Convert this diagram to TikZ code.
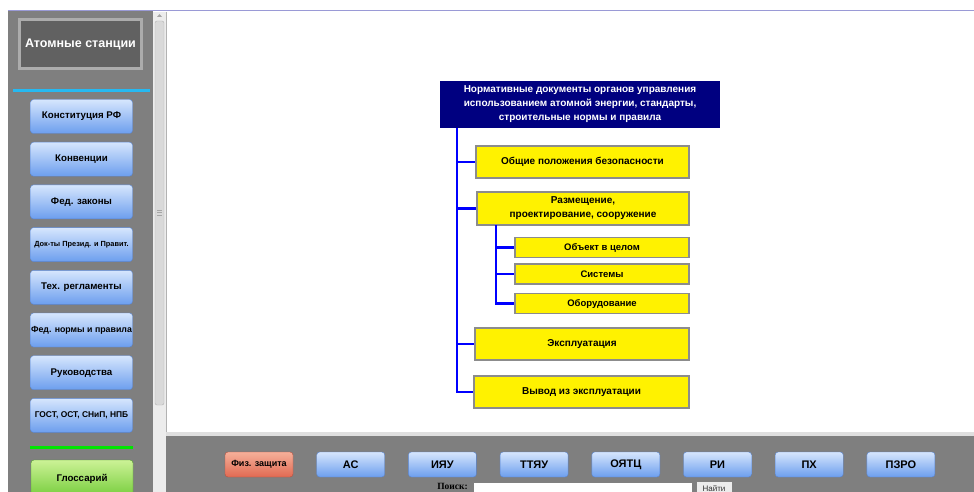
\documentclass[tikz,border=0pt]{standalone}
\usepackage{fontspec}
\setmainfont{Liberation Sans}
\newfontfamily\poiskfont{Liberation Serif}
\definecolor{panelgray}{HTML}{7F7F7F}
\definecolor{btntop}{HTML}{D6E6FD}
\definecolor{btnbot}{HTML}{6C9EEE}
\definecolor{btnedge}{HTML}{5A86D2}
\definecolor{redtop}{HTML}{F6B09A}
\definecolor{redbot}{HTML}{E06A52}
\definecolor{rededge}{HTML}{B85040}
\definecolor{grntop}{HTML}{CCF296}
\definecolor{grnbot}{HTML}{74CC3A}
\definecolor{grnedge}{HTML}{4C9A2A}
\definecolor{navydoc}{HTML}{000080}
\definecolor{boxedge}{HTML}{8C8C8C}
\definecolor{topline}{HTML}{9A9AD6}

\tikzset{
  navbtn/.style={draw=btnedge, top color=btntop, bottom color=btnbot,
    rounded corners=3pt, minimum width=102pt, minimum height=34pt,
    inner sep=0pt, text=black, font=\bfseries\fontsize{9.7}{11}\selectfont},
  barbtn/.style={navbtn, minimum width=68pt, minimum height=25pt,
    font=\bfseries\fontsize{11}{12}\selectfont},
  docbox/.style={draw=boxedge, fill=yellow, line width=1.2pt, inner sep=0pt,
    align=center, font=\bfseries\fontsize{10}{14}\selectfont},
  subbox/.style={docbox, minimum width=174pt, minimum height=20pt,
    font=\bfseries\fontsize{9.5}{12}\selectfont},
  branch/.style={draw=blue, line width=2.6pt}
}

\begin{document}
\begin{tikzpicture}[x=1pt,y=-1pt]
    \useasboundingbox (0,0) rectangle (974,492);
    \clip (0,0) rectangle (974,492);
    \fill[white] (0,0) rectangle (974,492);
    % left panel and scrollbar
    \fill[panelgray] (8,11) rectangle (153,492);
    \draw[topline, line width=1pt] (8,11) -- (974,11);
    \fill[gray!15] (153,12) rectangle (166,492);
    \draw[gray!60, fill=gray!30, rounded corners=2pt] (155,21) rectangle (164,405);
    \fill[gray!70] (157,17) -- (162,17) -- (159.5,14) -- cycle;
    \draw[gray!70] (157,210) -- (162,210) (157,212.5) -- (162,212.5) (157,215) -- (162,215);
    \draw[gray!60] (166,12) -- (166,432);
    % bottom bar
    \fill[gray!25] (166,432) rectangle (974,436);
    \fill[panelgray] (166,436) rectangle (974,492);

    \node[draw=gray!75!black, double=gray!65, double distance=2.4pt, fill=black!62,
      minimum width=122pt, minimum height=49pt, inner sep=0pt, text=white,
      font=\bfseries\fontsize{12.5}{14}\selectfont] (atom) at (80.5,44) {Атомные станции};
    \draw[cyan!85!white, line width=3pt] (13,91) -- (150,91);

    \foreach \txt/\fs [count=\i from 0] in {Конституция РФ/9.7, Конвенции/9.7,
        Фед. законы/9.7, Док-ты Презид. и Правит./7.4, Тех. регламенты/9.7,
        Фед. нормы и правила/8.8, Руководства/9.7, {ГОСТ, ОСТ, СНиП, НПБ}/8.4}
      \node[navbtn, font=\bfseries\fontsize{\fs}{11}\selectfont] (lb\i)
        at (81.5,{116.5+42.7*\i}) {\txt};

    \draw[green!90!black, line width=3pt] (30,447) -- (133,447);
    \node[navbtn, draw=grnedge, top color=grntop, bottom color=grnbot,
      minimum height=38pt] (gloss) at (82,479) {Глоссарий};

    % bottom buttons
    \node[barbtn, draw=rededge, top color=redtop, bottom color=redbot,
      font=\bfseries\fontsize{9}{11}\selectfont] (phys) at (259,464.5) {Физ. защита};
    \foreach \txt [count=\i from 1] in {АС, ИЯУ, ТТЯУ, ОЯТЦ, РИ, ПХ, ПЗРО}
      \node[barbtn] (bb\i) at ({259+91.7*\i},464.5) {\txt};

    \node[anchor=east, inner sep=0pt, font=\poiskfont\bfseries\fontsize{9.5}{11}\selectfont]
      (poisk) at (468,486.5) {Поиск:};
    \node[draw=gray, fill=white, minimum width=219pt, minimum height=18pt,
      inner sep=0pt] (search) at (582.5,491) {};
    \node[draw=gray, fill=gray!15, minimum width=36pt, minimum height=19pt,
      inner sep=0pt, font=\fontsize{8}{9}\selectfont, text=black!80] (find)
      at (714,490.5) {\raisebox{3pt}{Найти}};

    % document tree
    \node[fill=navydoc, text=white, minimum width=280pt, minimum height=47pt,
      inner sep=0pt, align=center, font=\bfseries\fontsize{10}{14}\selectfont]
      (top) at (580,104.5) {Нормативные документы органов управления\\
        использованием атомной энергии, стандарты,\\
        строительные нормы и правила};
    \node[docbox, minimum width=213pt, minimum height=32pt] (b1) at (582.5,162)
      {Общие положения безопасности};
    \node[docbox, minimum width=212pt, minimum height=33pt] (b2) at (583,208.5)
      {Размещение,\\проектирование, сооружение};
    \node[subbox] (s1) at (602,247.5) {Объект в целом};
    \node[subbox] (s2) at (602,274) {Системы};
    \node[subbox] (s3) at (602,303.5) {Оборудование};
    \node[docbox, minimum width=214pt, minimum height=32pt] (b3) at (582,344)
      {Эксплуатация};
    \node[docbox, minimum width=215pt, minimum height=32pt] (b4) at (581.5,392)
      {Вывод из эксплуатации};

    \coordinate (tr) at (457,128);
    \coordinate (str) at (496,225);
    \draw[branch] (tr) |- (b4.west);
    \foreach \n in {b1,b2,b3}
      \draw[branch] (tr) |- (\n.west);
    \draw[branch] (str) |- (s3.west);
    \foreach \n in {s1,s2}
      \draw[branch] (str) |- (\n.west);
\end{tikzpicture}
\end{document}
